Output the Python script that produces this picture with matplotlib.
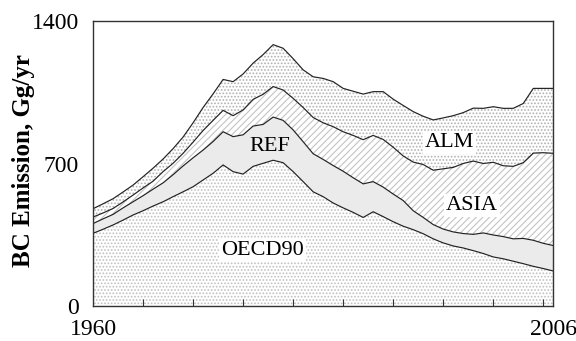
import numpy as np
import matplotlib
matplotlib.use("Agg")
import matplotlib.pyplot as plt

years = np.arange(1960, 2007)
oecd90 = [357, 377, 398, 422, 447, 468, 491, 512, 537, 561, 586, 619, 652, 693, 660, 648,
          686, 701, 716, 704, 660, 611, 561, 537, 506, 482, 460, 435, 463, 439, 414, 392,
          375, 355, 330, 310, 295, 285, 272, 258, 241, 232, 220, 208, 195, 184, 172]
ref = [48, 51, 52, 60, 65, 74, 83, 93, 108, 127, 142, 147, 156, 163, 172, 193,
       198, 191, 212, 208, 205, 196, 187, 183, 184, 180, 170, 165, 148, 145, 136, 126,
       93, 80, 70, 68, 69, 71, 80, 101, 108, 109, 110, 124, 128, 124, 125]
asia = [32, 29, 29, 29, 33, 38, 39, 55, 56, 62, 77, 96, 104, 105, 103, 122,
        131, 148, 150, 149, 155, 168, 178, 180, 191, 194, 208, 217, 227, 234, 230, 219,
        239, 260, 267, 296, 317, 344, 360, 341, 357, 348, 356, 372, 428, 445, 453]
alm = [41, 45, 48, 49, 49, 55, 64, 62, 72, 80, 95, 113, 130, 152, 167, 177,
       178, 195, 206, 205, 195, 185, 200, 218, 221, 213, 217, 224, 215, 235, 236, 248,
       248, 237, 247, 250, 254, 250, 260, 271, 273, 282, 285, 291, 318, 316, 319]
region_labels = ["OECD90", "REF", "ASIA", "ALM"]
ytick_vals = [0, 700, 1400]
xtick_labels = [1960, 2006]

serif_list = ['Liberation Serif', 'Tinos', 'Times New Roman', 'Nimbus Roman',
              'STIXGeneral', 'DejaVu Serif']
plt.rcParams['font.family'] = serif_list
plt.rcParams['hatch.linewidth'] = 0.8

fig = plt.figure(figsize=(5.76, 3.41), dpi=100)
ax = fig.add_axes([0.1615, 0.1026, 0.7991, 0.8358])

series = [oecd90, ref, asia, alm]
polys = ax.stackplot(years, *series,
                     colors=['white', '#ebebeb', 'white', 'white'],
                     hatch=['.....', '', '/////', '.....'],
                     linewidth=0)
hatch_cols = ['#c0c0c0', '#ebebeb', '#c4c4c4', '#b0b0b0']
for p, hc in zip(polys, hatch_cols):
    p.set_edgecolor(hc)
    p.set_linewidth(0)

cum = np.cumsum(np.array(series), axis=0)
for row in cum:
    ax.plot(years, row, color='#222222', lw=0.85)

ax.set_xlim(1960, 2006)
ax.set_ylim(0, 1400)
ax.set_yticks(ytick_vals)
ax.set_yticklabels([str(v) for v in ytick_vals], fontsize=17)
ax.tick_params(axis='y', length=0, pad=10)
ax.set_xticks(xtick_labels)
ax.set_xticklabels([str(v) for v in xtick_labels], fontsize=17)
ax.tick_params(axis='x', which='major', length=0, pad=9)
ax.set_xticks(np.arange(1965, 2006, 5), minor=True)
ax.tick_params(axis='x', which='minor', direction='in', length=5, width=0.8, color='#333333')
for s in ax.spines.values():
    s.set_linewidth(1.0)
    s.set_color('#333333')

ax.set_ylabel("BC Emission, Gg/yr", fontsize=18, fontweight='bold')
ax.yaxis.label.set_va('center')
ax.yaxis.set_label_coords(-0.152, 0.512)

box = dict(facecolor='white', edgecolor='none', pad=1.5)
ax.text(1977.7, 783, region_labels[1], fontsize=16, ha='center', va='center')
ax.text(1976.9, 271, region_labels[0], fontsize=16, ha='center', va='center', bbox=box)
ax.text(1995.6, 803, region_labels[3], fontsize=16, ha='center', va='center', bbox=box)
ax.text(1997.9, 496, region_labels[2], fontsize=16, ha='center', va='center', bbox=box)

fig.savefig("out.png", dpi=100)
